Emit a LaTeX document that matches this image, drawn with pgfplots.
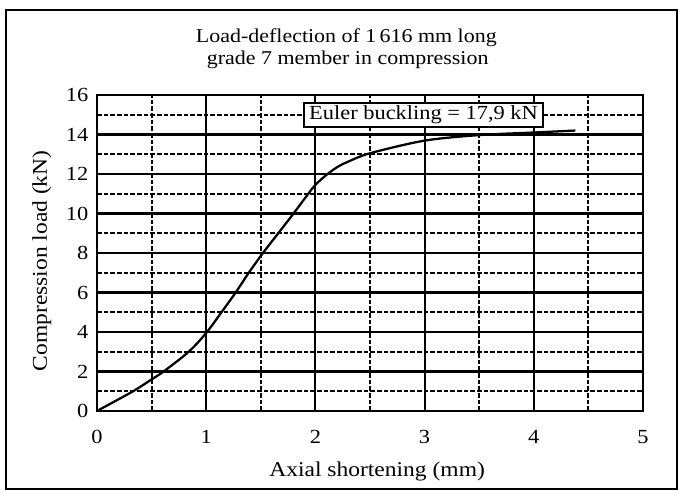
\documentclass[border=0pt]{standalone}
\usepackage{pgfplots}
\pgfplotsset{compat=1.18}
\usepackage{fontspec}
\setmainfont{Liberation Serif}[FakeStretch=1.12]

\begin{document}
\begin{tikzpicture}
% picture area: 1 px of the reference = 0.75pt
\useasboundingbox (-72.75pt,-60pt) rectangle (436.5pt,308.25pt);
\draw[line width=1.6pt] (-68.25pt,-58.5pt) rectangle (435pt,300.75pt);

\node[anchor=base, font=\fontsize{14.7}{18}\selectfont] at (187pt,276pt) {Load-deflection of 1\,616 mm long};
\node[anchor=base, font=\fontsize{14.7}{18}\selectfont] at (188pt,259.5pt) {grade 7 member in compression};

\begin{axis}[
  scale only axis,
  width=409.5pt, height=237pt,
  xmin=0, xmax=5, ymin=0, ymax=16,
  xtick={0,1,...,5},
  ytick={0,2,...,16},
  minor x tick num=1,
  minor y tick num=1,
  grid=both,
  major tick length=0pt, minor tick length=0pt,
  axis line style={line width=1.7pt},
  major grid style={black, line width=1.6pt},
  minor grid style={black, line width=1.6pt, dash pattern=on 3.5pt off 1.5pt},
  /pgf/number format/assume math mode=true,
  ticklabel style={font=\fontsize{15}{18}\selectfont},
  xticklabel style={yshift=-11pt},
  yticklabel style={xshift=-3pt},
  xlabel={Axial shortening (mm)},
  ylabel={Compression load (kN)},
  label style={font=\fontsize{15.75}{18}\selectfont},
  xlabel style={at={([yshift=-49pt]axis description cs:0.513,0)}, anchor=base},
  ylabel style={at={([xshift=-37.5pt]axis description cs:0,0.475)}, anchor=base, rotate=0},
]
\addplot[black, line width=1.7pt, smooth] coordinates {
  (0,0) (0.33,1) (0.5,1.6) (0.61,2) (0.84,3) (1.0,3.95) (1.14,5) (1.27,6)
  (1.39,7) (1.52,8) (1.66,9) (1.80,10) (1.935,11) (2.0,11.45) (2.1,11.95)
  (2.2,12.35) (2.29,12.6) (2.5,13.05) (3.0,13.69) (3.5,13.97) (4.0,14.1) (4.38,14.2)
};
\node[draw, fill=white, line width=1.6pt, inner xsep=4pt, inner ysep=2pt,
      minimum height=18pt, font=\fontsize{15}{18}\selectfont]
  at (axis cs:2.99,15) {Euler buckling = 17,9 kN};
\end{axis}
\end{tikzpicture}
\end{document}
